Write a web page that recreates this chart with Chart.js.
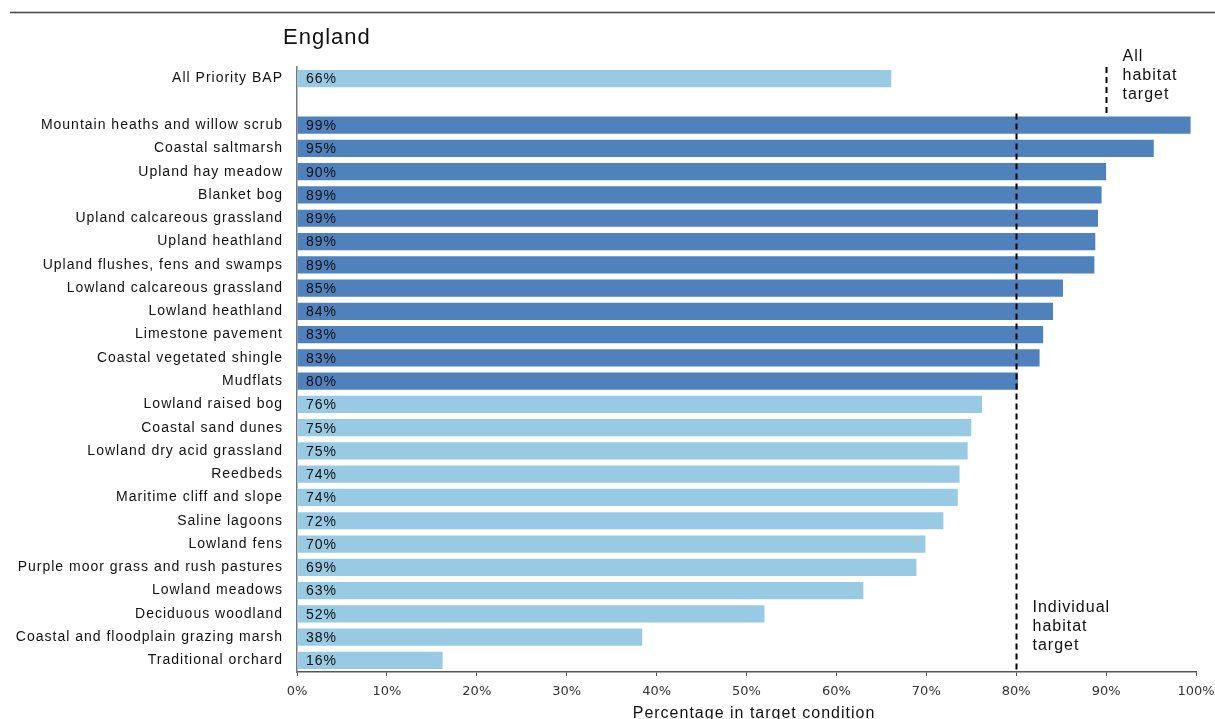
<!DOCTYPE html>
<html>
<head>
<meta charset="utf-8">
<script src="https://cdn.jsdelivr.net/npm/chart.js@4.4.1/dist/chart.umd.min.js"></script>
<style>
  html, body { margin: 0; padding: 0; background: #fff; }
  #wrap { position: relative; width: 1215px; height: 719px; }
</style>
</head>
<body>
<div id="wrap"><canvas id="habitatChart"></canvas></div>
<script>
// Data
const categories = [
  'All Priority BAP',
  '',
  'Mountain heaths and willow scrub',
  'Coastal saltmarsh',
  'Upland hay meadow',
  'Blanket bog',
  'Upland calcareous grassland',
  'Upland heathland',
  'Upland flushes, fens and swamps',
  'Lowland calcareous grassland',
  'Lowland heathland',
  'Limestone pavement',
  'Coastal vegetated shingle',
  'Mudflats',
  'Lowland raised bog',
  'Coastal sand dunes',
  'Lowland dry acid grassland',
  'Reedbeds',
  'Maritime cliff and slope',
  'Saline lagoons',
  'Lowland fens',
  'Purple moor grass and rush pastures',
  'Lowland meadows',
  'Deciduous woodland',
  'Coastal and floodplain grazing marsh',
  'Traditional orchard'
];
const percentInTarget = [
  66.1, null,
  99.4, 95.3, 90.0, 89.5, 89.1, 88.8, 88.7, 85.2, 84.1, 83.0, 82.6, 80.2,
  76.2, 75.0, 74.6, 73.7, 73.5, 71.9, 69.9, 68.9, 63.0, 52.0, 38.4, 16.2
];
const valueLabels = [
  '66%', '',
  '99%', '95%', '90%', '89%', '89%', '89%', '89%', '85%', '84%', '83%', '83%', '80%',
  '76%', '75%', '75%', '74%', '74%', '72%', '70%', '69%', '63%', '52%', '38%', '16%'
];
const xTicks = [0, 10, 20, 30, 40, 50, 60, 70, 80, 90, 100];
const INDIVIDUAL_TARGET = 80;
const ALL_HABITAT_TARGET = 90;

const DARK_BLUE = '#4F81BD';
const LIGHT_BLUE = '#98CAE3';
const barColors = percentInTarget.map((v, i) => (i >= 2 && v >= INDIVIDUAL_TARGET) ? DARK_BLUE : LIGHT_BLUE);

const FONT = "'Liberation Sans', Arial, sans-serif";

// Extra drawing: title, top rule, value labels, target lines
const overlayPlugin = {
  id: 'overlay',
  beforeDraw(chart) {
    // the reference text is set loosely, so widen the letter spacing
    chart.ctx.letterSpacing = '1px';
  },
  afterDatasetsDraw(chart) {
    const ctx = chart.ctx;
    const x = chart.scales.x;
    const y = chart.scales.y;
    const meta = chart.getDatasetMeta(0);

    ctx.save();
    // value labels inside bars
    ctx.font = '14px ' + FONT;
    ctx.fillStyle = '#111';
    ctx.textAlign = 'left';
    ctx.textBaseline = 'middle';
    meta.data.forEach((bar, i) => {
      if (!valueLabels[i]) return;
      ctx.fillText(valueLabels[i], x.getPixelForValue(0) + 9, bar.y + 1);
    });

    // target lines
    ctx.strokeStyle = '#000';
    ctx.lineWidth = 2;
    ctx.setLineDash([6, 4]);
    const x80 = Math.round(x.getPixelForValue(INDIVIDUAL_TARGET)) + 0.5;
    ctx.beginPath();
    ctx.moveTo(x80, y.getPixelForValue(1.5));
    ctx.lineTo(x80, y.bottom);
    ctx.stroke();
    const x90 = Math.round(x.getPixelForValue(ALL_HABITAT_TARGET)) + 0.5;
    ctx.beginPath();
    ctx.moveTo(x90, y.top);
    ctx.lineTo(x90, y.getPixelForValue(1.6));
    ctx.stroke();
    ctx.setLineDash([]);

    // target captions
    ctx.font = '16px ' + FONT;
    ctx.fillStyle = '#111';
    ctx.textBaseline = 'middle';
    ['All', 'habitat', 'target'].forEach((t, i) => ctx.fillText(t, x90 + 16, 57 + i * 19));
    ['Individual', 'habitat', 'target'].forEach((t, i) => ctx.fillText(t, x80 + 16, 608 + i * 19));
    ctx.restore();

    // x tick labels (drawn after this, z: 1) use normal spacing
    ctx.letterSpacing = '0px';
  },
  afterDraw(chart) {
    const ctx = chart.ctx;
    ctx.save();
    ctx.letterSpacing = '1px';
    // top rule
    ctx.strokeStyle = '#444';
    ctx.lineWidth = 1.5;
    ctx.beginPath();
    ctx.moveTo(10, 12.5);
    ctx.lineTo(1215, 12.5);
    ctx.stroke();
    // chart title
    ctx.font = '22px ' + FONT;
    ctx.fillStyle = '#111';
    ctx.textBaseline = 'middle';
    ctx.textAlign = 'left';
    ctx.fillText('England', 283, 38);
    // axis title
    ctx.font = '16px ' + FONT;
    ctx.textAlign = 'center';
    ctx.fillText('Percentage in target condition', 754, 714);
    ctx.restore();
  }
};

const ctx = document.getElementById('habitatChart').getContext('2d');
const habitatChart = new Chart(ctx, {
  type: 'bar',
  data: {
    labels: categories,
    datasets: [{
      data: percentInTarget,
      backgroundColor: barColors,
      borderWidth: 0,
      categoryPercentage: 1.0,
      barPercentage: 0.74
    }]
  },
  options: {
    indexAxis: 'y',
    responsive: true,
    maintainAspectRatio: false,
    animation: false,
    layout: {
      padding: { top: 67, right: 19, bottom: 0, left: 0 }
    },
    scales: {
      x: {
        min: 0,
        max: 100,
        afterBuildTicks: (scale) => { scale.ticks = xTicks.map(v => ({ value: v })); },
        afterFit: (scale) => {
          scale.height = 47;
          scale.paddingLeft = 0;
          scale.paddingRight = 0;
        },
        grid: {
          drawOnChartArea: false,
          drawTicks: true,
          tickLength: 4,
          color: '#555'
        },
        border: { display: true, color: '#555', width: 1.5 },
        ticks: {
          z: 1,
          color: '#333',
          padding: 8,
          maxRotation: 0,
          font: { family: "'DejaVu Sans', Verdana, sans-serif", size: 13 },
          callback: (v) => v + '%'
        }
      },
      y: {
        afterFit: (scale) => { scale.width = 297; },
        grid: { display: false, drawTicks: false },
        border: { display: true, color: '#777', width: 1.5 },
        ticks: {
          color: '#111',
          padding: 14,
          autoSkip: false,
          font: { family: FONT, size: 14 }
        }
      }
    },
    plugins: {
      legend: { display: false },
      tooltip: { enabled: false },
      title: { display: false }
    }
  },
  plugins: [overlayPlugin]
});
</script>
</body>
</html>
